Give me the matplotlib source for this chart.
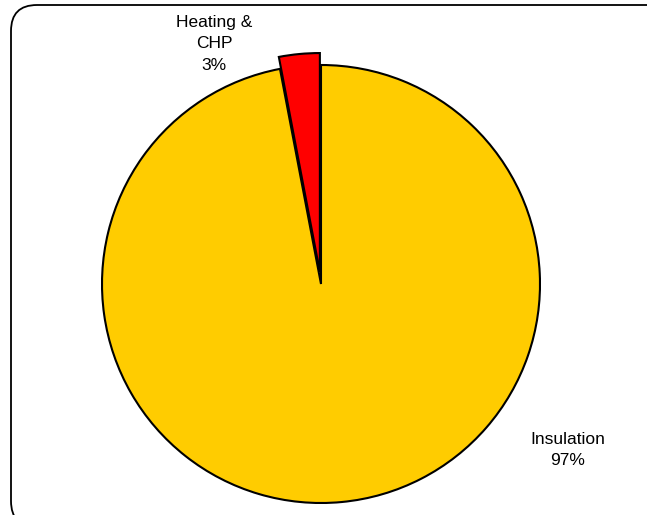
import matplotlib.pyplot as plt
from matplotlib.patches import FancyBboxPatch

labels = ["Heating &\nCHP", "Insulation"]
shares = [3, 97]
colors = ["#FF0000", "#FFCC00"]
explode = [12, 0]  # pie explode is in data units here (pixels)

fig = plt.figure(figsize=(6.47, 5.15), dpi=100)
ax = fig.add_axes([0, 0, 1, 1])
ax.set_xlim(0, 647)
ax.set_ylim(0, 515)
ax.set_aspect("equal")
ax.axis("off")

# rounded frame, partly cut off at right and bottom
frame = FancyBboxPatch((11, -12), 670, 522,
                       boxstyle="round,pad=0,rounding_size=26",
                       fill=False, edgecolor="black", linewidth=1.3)
ax.add_patch(frame)

ax.pie(shares, colors=colors, explode=explode, startangle=90,
       counterclock=True, center=(321, 231), radius=219,
       wedgeprops=dict(edgecolor="black", linewidth=1.5), frame=False)
ax.set_xlim(0, 647)
ax.set_ylim(0, 515)

pos = [(214, 471), (568, 65)]
for (x, y), lab, s in zip(pos, labels, shares):
    ax.text(x, y, f"{lab}\n{s}%", ha="center", va="center",
            fontsize=12.5, family="Liberation Sans", linespacing=1.55)

fig.savefig("out.png", dpi=100)
